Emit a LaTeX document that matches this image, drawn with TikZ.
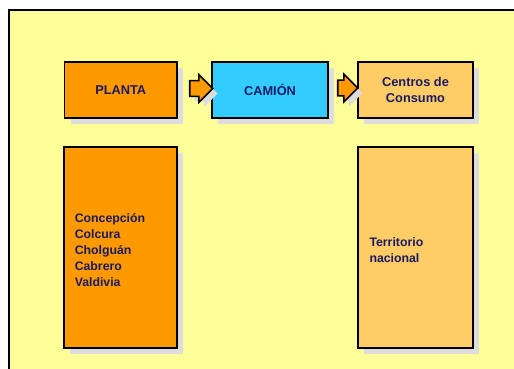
\documentclass[tikz,border=0pt]{standalone}
\usepackage{fontspec}
\setmainfont{Liberation Sans}
\usetikzlibrary{shadows,shapes.arrows,calc}
\definecolor{bgyellow}{HTML}{FFFF99}
\definecolor{orng}{HTML}{FF9900}
\definecolor{cyanbox}{HTML}{33CCFF}
\definecolor{lightorng}{HTML}{FFCC66}
\definecolor{navy}{RGB}{26,26,100}
\definecolor{shadowgray}{HTML}{DDDDDD}
\tikzset{
  boxbase/.style={draw=black, line width=1.6pt, inner sep=0pt,
    text=navy, font=\bfseries\fontsize{12.8}{16}\selectfont,
    drop shadow={shadow xshift=6pt, shadow yshift=-6pt, fill=shadowgray, opacity=1}},
  topbox/.style={boxbase, minimum height=56pt, align=center},
  tallbox/.style={boxbase, minimum height=201pt, text width=92pt, inner xsep=10.5pt,
    align=left, font=\bfseries\fontsize{12.3}{16}\selectfont},
  blockarrow/.style={single arrow, draw=black, line width=1.6pt, fill=orng,
    inner xsep=0pt, inner ysep=7pt, single arrow head extend=6pt,
    single arrow tip angle=90,
    drop shadow={shadow xshift=5pt, shadow yshift=-5pt, fill=shadowgray, opacity=1}}
}
\begin{document}
\begin{tikzpicture}[x=1pt,y=-1pt]
\useasboundingbox (0,0) rectangle (514,369);
\fill[white] (0,0) rectangle (514,369);
\begin{scope}
\clip (0,0) rectangle (514,369);
\draw[fill=bgyellow, line width=2pt] (9,10) rectangle (540,400);
\end{scope}
\node[topbox, fill=orng, minimum width=112.5pt] (planta) at (120.75,90) {PLANTA};
\node[topbox, fill=cyanbox, minimum width=116pt] (camion) at (270,90) {CAMIÓN};
\node[topbox, fill=lightorng, minimum width=115pt] (centros) at (415.5,90) {Centros de\\Consumo};
\node[tallbox, fill=orng, minimum width=112.5pt] (plantas) at (120.75,247.5)
  {\rule{0pt}{15pt}Concepción\\Colcura\\Cholguán\\Cabrero\\Valdivia};
\node[tallbox, fill=lightorng, minimum width=115pt] (territorio) at (415.5,247.5)
  {\rule{0pt}{15pt}Territorio\\nacional};
\node[blockarrow, minimum height=23pt] (arr1) at ($(planta.east)+(19.5,-1.5)$) {};
\node[blockarrow, minimum height=20pt] (arr2) at ($(camion.east)+(15,-2)$) {};
\end{tikzpicture}
\end{document}
